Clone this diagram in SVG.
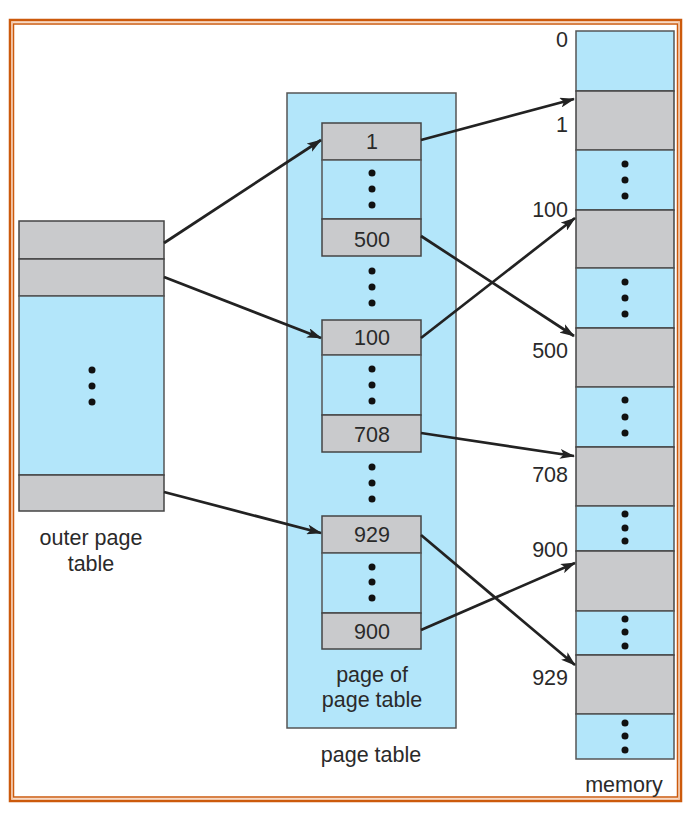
<svg xmlns="http://www.w3.org/2000/svg" width="698" height="824" viewBox="0 0 698 824">
<defs>
<style>
.frame{fill:none;stroke:#cc5a0c}
.blue{fill:#b3e6fa;stroke:#555;stroke-width:1.5}
.gray{fill:#c9cacc;stroke:#444;stroke-width:1.5}
.dot{fill:#111}
.t{font-family:"Liberation Sans",Arial,sans-serif;font-size:21.5px;fill:#2a2a2a}
.c{text-anchor:middle}
.r{text-anchor:end}
.conn line{stroke:#222;stroke-width:2.7;marker-end:url(#ah)}
</style>
<marker id="ah" viewBox="0 0 15 10" refX="14" refY="5" markerWidth="15" markerHeight="10" markerUnits="userSpaceOnUse" orient="auto">
<path d="M0,0 L15,5 L0,10 L3.5,5 Z" fill="#222"/>
</marker>
</defs>
<rect width="698" height="824" fill="#fff"/>
<g id="frame">
<rect class="frame" x="10" y="20" width="671" height="781" stroke-width="2.5"/>
<rect x="12" y="22" width="667" height="777" fill="none" stroke="#f0b48a" stroke-width="1"/>
<rect class="frame" x="13.5" y="24" width="664" height="773" stroke-width="1.5"/>
</g>

<g id="outer-page-table">
<rect class="gray" x="19" y="221" width="145" height="38"/>
<rect class="gray" x="19" y="259" width="145" height="37"/>
<rect class="blue" x="19" y="296" width="145" height="179"/>
<rect class="gray" x="19" y="475" width="145" height="36"/>
<circle class="dot" cx="92" cy="370" r="3.5"/>
<circle class="dot" cx="92" cy="386" r="3.5"/>
<circle class="dot" cx="92" cy="402" r="3.5"/>
<text class="t c" x="91" y="545">outer page</text>
<text class="t c" x="91" y="571">table</text>
</g>

<g id="page-table">
<rect class="blue" x="287" y="93" width="169" height="635"/>
<text class="t c" x="371" y="762">page table</text>
<circle class="dot" cx="372" cy="271" r="3.5"/>
<circle class="dot" cx="372" cy="287" r="3.5"/>
<circle class="dot" cx="372" cy="303" r="3.5"/>
<circle class="dot" cx="372" cy="467" r="3.5"/>
<circle class="dot" cx="372" cy="483" r="3.5"/>
<circle class="dot" cx="372" cy="499" r="3.5"/>
</g>

<g id="page-1">
<rect class="gray" x="322" y="123" width="99" height="37"/>
<rect class="blue" x="322" y="160" width="99" height="59"/>
<rect class="gray" x="322" y="219" width="99" height="37"/>
<text class="t c" x="372" y="149">1</text>
<text class="t c" x="372" y="247">500</text>
<circle class="dot" cx="372" cy="173" r="3.5"/>
<circle class="dot" cx="372" cy="189" r="3.5"/>
<circle class="dot" cx="372" cy="205" r="3.5"/>
</g>

<g id="page-2">
<rect class="gray" x="322" y="320" width="99" height="35"/>
<rect class="blue" x="322" y="355" width="99" height="60"/>
<rect class="gray" x="322" y="415" width="99" height="37"/>
<text class="t c" x="372" y="345">100</text>
<text class="t c" x="372" y="442">708</text>
<circle class="dot" cx="372" cy="369" r="3.5"/>
<circle class="dot" cx="372" cy="385" r="3.5"/>
<circle class="dot" cx="372" cy="401" r="3.5"/>
</g>

<g id="page-3">
<rect class="gray" x="322" y="516" width="99" height="37"/>
<rect class="blue" x="322" y="553" width="99" height="60"/>
<rect class="gray" x="322" y="613" width="99" height="36"/>
<text class="t c" x="372" y="542">929</text>
<text class="t c" x="372" y="639">900</text>
<circle class="dot" cx="372" cy="567" r="3.5"/>
<circle class="dot" cx="372" cy="582" r="3.5"/>
<circle class="dot" cx="372" cy="598" r="3.5"/>
<text class="t c" x="372" y="682">page of</text>
<text class="t c" x="372" y="707">page table</text>
</g>

<g id="memory">
<rect class="blue" x="576" y="31" width="98" height="60"/>
<rect class="gray" x="576" y="91" width="98" height="59"/>
<rect class="blue" x="576" y="150" width="98" height="60"/>
<rect class="gray" x="576" y="210" width="98" height="58"/>
<rect class="blue" x="576" y="268" width="98" height="60"/>
<rect class="gray" x="576" y="328" width="98" height="59"/>
<rect class="blue" x="576" y="387" width="98" height="60"/>
<rect class="gray" x="576" y="447" width="98" height="59"/>
<rect class="blue" x="576" y="506" width="98" height="45"/>
<rect class="gray" x="576" y="551" width="98" height="60"/>
<rect class="blue" x="576" y="611" width="98" height="44"/>
<rect class="gray" x="576" y="655" width="98" height="59"/>
<rect class="blue" x="576" y="714" width="98" height="45"/>
<circle class="dot" cx="625" cy="164" r="3.5"/>
<circle class="dot" cx="625" cy="180" r="3.5"/>
<circle class="dot" cx="625" cy="196" r="3.5"/>
<circle class="dot" cx="625" cy="282" r="3.5"/>
<circle class="dot" cx="625" cy="298" r="3.5"/>
<circle class="dot" cx="625" cy="314" r="3.5"/>
<circle class="dot" cx="625" cy="400" r="3.5"/>
<circle class="dot" cx="625" cy="417" r="3.5"/>
<circle class="dot" cx="625" cy="433" r="3.5"/>
<circle class="dot" cx="625" cy="514" r="3.5"/>
<circle class="dot" cx="625" cy="528" r="3.5"/>
<circle class="dot" cx="625" cy="541" r="3.5"/>
<circle class="dot" cx="625" cy="619" r="3.5"/>
<circle class="dot" cx="625" cy="632" r="3.5"/>
<circle class="dot" cx="625" cy="646" r="3.5"/>
<circle class="dot" cx="625" cy="723" r="3.5"/>
<circle class="dot" cx="625" cy="736" r="3.5"/>
<circle class="dot" cx="625" cy="750" r="3.5"/>
<text class="t r" x="568" y="47">0</text>
<text class="t r" x="568" y="132">1</text>
<text class="t r" x="568" y="217">100</text>
<text class="t r" x="568" y="358">500</text>
<text class="t r" x="568" y="482">708</text>
<text class="t r" x="568" y="557">900</text>
<text class="t r" x="568" y="685">929</text>
<text class="t c" x="624" y="792">memory</text>
</g>

<g id="connectors" class="conn">
<line x1="164" y1="243" x2="321" y2="140"/>
<line x1="164" y1="277" x2="321" y2="338"/>
<line x1="164" y1="492" x2="321" y2="533"/>
<line x1="421" y1="140" x2="574" y2="99"/>
<line x1="421" y1="236" x2="574" y2="336"/>
<line x1="421" y1="338" x2="575" y2="218"/>
<line x1="421" y1="433" x2="574" y2="456"/>
<line x1="421" y1="535" x2="575" y2="665"/>
<line x1="421" y1="630" x2="575" y2="563"/>
</g>
</svg>
